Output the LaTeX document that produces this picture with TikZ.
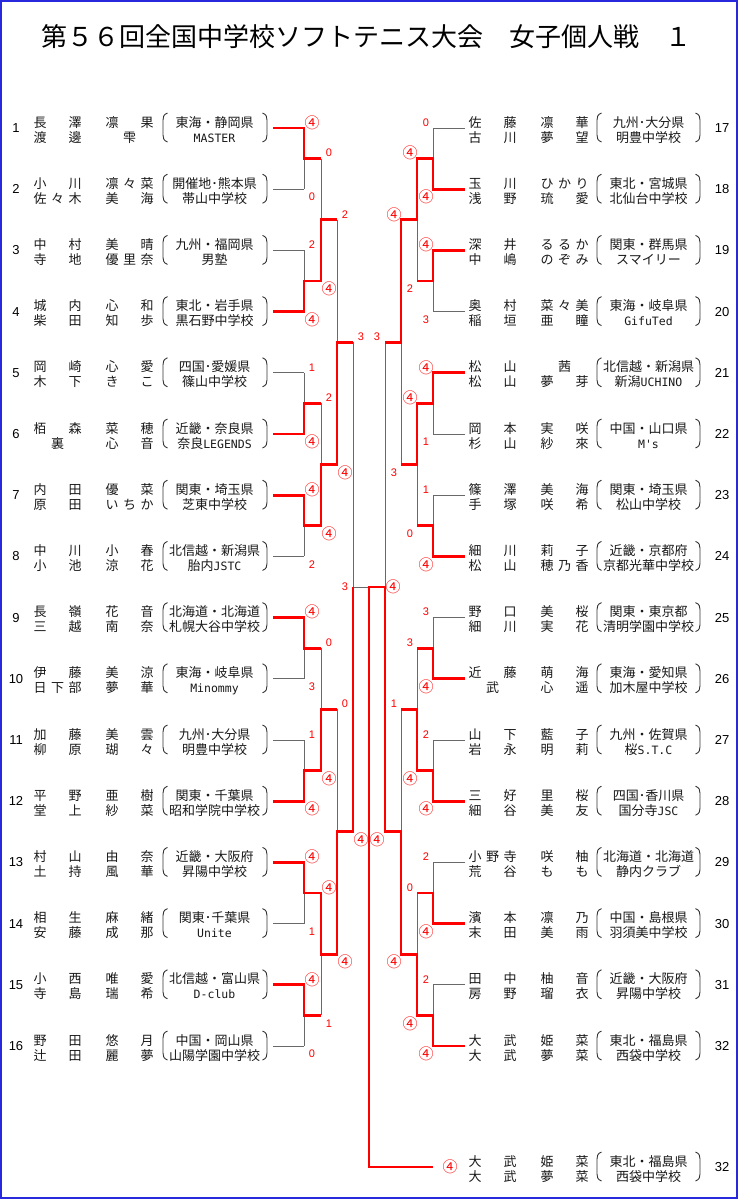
\documentclass[tikz,border=0pt]{standalone}
\usepackage{fontspec}
\setmainfont{Noto Sans CJK JP}
\newfontfamily\monof{DejaVu Sans Mono}
\newfontfamily\arialf{Liberation Sans}
\usetikzlibrary{calc}
\definecolor{frameblue}{RGB}{40,40,220}
\definecolor{linegrey}{RGB}{105,105,105}

\makeatletter
\newcount\dnum \newcount\didx
\newcommand\dbox[1]{\hbox to 35pt{\dnum=0 \@tfor\dch:=#1\do{\advance\dnum\@ne}%
  \ifnum\dnum=1 \hfil\makebox[0pt]{#1}\hfil\else
  \didx=0 \@tfor\dch:=#1\do{\ifnum\didx>0 \hfil\fi\advance\didx\@ne\makebox[0pt]{\dch}}\fi}}
\makeatother
\newcommand\nrow[2]{\hbox{\dbox{#1}\hskip37pt\dbox{#2}}}
\newcommand\mn[1]{{\monof\fontsize{11.5}{12}\selectfont #1}}
\newcommand\four{{\rmfamily\fontsize{15}{15}\selectfont ④}}
\newcounter{scn}

\tikzset{
  nm/.style={inner sep=0pt, text=black!90, font=\fontsize{13}{13}\selectfont},
  num/.style={inner sep=0pt, font=\arialf\fontsize{13}{13}\selectfont},
  paren/.style={draw=black!80, line width=0.9pt},
  gl/.style={draw=linegrey, line width=1pt},
  rl/.style={draw=red, line width=2.8pt, line join=miter},
  score/.style={inner sep=0pt, text=red, font=\arialf\fontsize{11}{11}\selectfont},
}

\newcommand\ent[9]{%
  \node[nm,anchor=base west] (#1a) at (\NX,#3-1) {\nrow{#4}{#5}};
  \node[nm,anchor=base west] (#1b) at (\NX,#3+14) {\nrow{#6}{#7}};
  \node[nm,anchor=base] (#1r) at (\RX,#3-1) {#8};
  \node[nm,anchor=base] (#1s) at (\RX,#3+14) {#9};
  \node[num] (#1n) at (\UX,#3) {#2};
  \draw[paren] (\PX+4.5,#3-15) .. controls (\PX+0.5,#3-13.5) and (\PX,#3-11) .. (\PX,#3-8) -- (\PX,#3+7) .. controls (\PX,#3+10) and (\PX+0.5,#3+12.5) .. (\PX+4.5,#3+14);
  \draw[paren] (\QX-4.5,#3-15) .. controls (\QX-0.5,#3-13.5) and (\QX,#3-11) .. (\QX,#3-8) -- (\QX,#3+7) .. controls (\QX,#3+10) and (\QX-0.5,#3+12.5) .. (\QX-4.5,#3+14);
}
\newcommand\scorelbl[3]{\stepcounter{scn}\node[score] (sc\arabic{scn}) at (#1,#2) {#3};}

\begin{document}
\begin{tikzpicture}[x=1pt,y=-1pt]
\useasboundingbox (0,0) rectangle (740,1200);
\fill[white] (0,0) rectangle (740,1200);
\draw[draw=frameblue, line width=2pt] (1,1) rectangle (736.5,1197.5);

\node[anchor=base west, inner sep=0pt, font=\fontsize{26}{26}\selectfont] (title) at (41,46) {第５６回全国中学校ソフトテニス大会　女子個人戦　１};

% ---- coordinates of the bracket
\foreach \i in {1,...,16}{
  \pgfmathsetmacro\Y{128+61.2*(\i-1)}
  \coordinate (La\i) at (273,\Y);
  \coordinate (Lb\i) at (304,\Y);
  \coordinate (Ra\i) at (465,\Y);
  \coordinate (Rb\i) at (433,\Y);
}
\foreach \k in {1,...,8}{
  \pgfmathsetmacro\M{128+61.2*(2*\k-1.5)}
  \coordinate (L1m\k) at (304,\M); \coordinate (L1o\k) at (321,\M);
  \coordinate (R1m\k) at (433,\M); \coordinate (R1o\k) at (417,\M);
}
\foreach \k in {1,...,4}{
  \pgfmathsetmacro\M{128+61.2*(4*\k-2.5)}
  \coordinate (L2m\k) at (321,\M); \coordinate (L2o\k) at (337,\M);
  \coordinate (R2m\k) at (417,\M); \coordinate (R2o\k) at (401,\M);
}
\foreach \k in {1,2}{
  \pgfmathsetmacro\M{128+61.2*(8*\k-4.5)}
  \coordinate (L3m\k) at (337,\M); \coordinate (L3o\k) at (353,\M);
  \coordinate (R3m\k) at (401,\M); \coordinate (R3o\k) at (385,\M);
}
\coordinate (L4m) at (353,587);
\coordinate (R4m) at (385,587);
\coordinate (F) at (369,587);
\coordinate (Fb) at (369,1167);
\coordinate (W) at (433,1167);

% ---- grey bracket
\foreach \i in {1,...,16}{\draw[gl] (La\i) -- (Lb\i); \draw[gl] (Ra\i) -- (Rb\i);}
\foreach \k in {1,...,8}{
  \pgfmathtruncatemacro\a{2*\k-1}\pgfmathtruncatemacro\b{2*\k}
  \draw[gl] (Lb\a) -- (Lb\b); \draw[gl] (L1m\k) -- (L1o\k);
  \draw[gl] (Rb\a) -- (Rb\b); \draw[gl] (R1m\k) -- (R1o\k);
}
\foreach \k in {1,...,4}{
  \pgfmathtruncatemacro\a{2*\k-1}\pgfmathtruncatemacro\b{2*\k}
  \draw[gl] (L1o\a) -- (L1o\b); \draw[gl] (L2m\k) -- (L2o\k);
  \draw[gl] (R1o\a) -- (R1o\b); \draw[gl] (R2m\k) -- (R2o\k);
}
\foreach \k in {1,2}{
  \pgfmathtruncatemacro\a{2*\k-1}\pgfmathtruncatemacro\b{2*\k}
  \draw[gl] (L2o\a) -- (L2o\b); \draw[gl] (L3m\k) -- (L3o\k);
  \draw[gl] (R2o\a) -- (R2o\b); \draw[gl] (R3m\k) -- (R3o\k);
}
\draw[gl] (L3o1) -- (L3o2); \draw[gl] (L4m) -- (F);
\draw[gl] (R3o1) -- (R3o2); \draw[gl] (R4m) -- (F);

% ---- red winner paths
\draw[rl] (La1) -- (Lb1) -- (L1m1) -- (L1o1);
\draw[rl] (La4) -- (Lb4) -- (L1m2) -- (L1o2) -- (L2m1) -- (L2o1);
\draw[rl] (La6) -- (Lb6) -- (L1m3) -- (L1o3);
\draw[rl] (La7) -- (Lb7) -- (L1m4) -- (L1o4) -- (L2m2) -- (L2o2) -- (L3m1) -- (L3o1);
\draw[rl] (La9) -- (Lb9) -- (L1m5) -- (L1o5);
\draw[rl] (La12) -- (Lb12) -- (L1m6) -- (L1o6) -- (L2m3) -- (L2o3);
\draw[rl] (La13) -- (Lb13) -- (L1m7) -- (L1o7) -- (L2m4) -- (L2o4) -- (L3m2) -- (L3o2) -- (L4m);
\draw[rl] (La15) -- (Lb15) -- (L1m8) -- (L1o8);

\draw[rl] (Ra2) -- (Rb2) -- (R1m1) -- (R1o1) -- (R2m1) -- (R2o1) -- (R3m1) -- (R3o1);
\draw[rl] (Ra3) -- (Rb3) -- (R1m2) -- (R1o2);
\draw[rl] (Ra5) -- (Rb5) -- (R1m3) -- (R1o3) -- (R2m2) -- (R2o2);
\draw[rl] (Ra8) -- (Rb8) -- (R1m4) -- (R1o4);
\draw[rl] (Ra10) -- (Rb10) -- (R1m5) -- (R1o5);
\draw[rl] (Ra12) -- (Rb12) -- (R1m6) -- (R1o6) -- (R2m3) -- (R2o3);
\draw[rl] (Ra14) -- (Rb14) -- (R1m7) -- (R1o7);
\draw[rl] (Ra16) -- (Rb16) -- (R1m8) -- (R1o8) -- (R2m4) -- (R2o4) -- (R3m2) -- (R3o2) -- (R4m) -- (F) -- (Fb) -- (W);

% ---- left entries
\def\NX{40}\def\RX{214.5}\def\PX{163}\def\QX{267}\def\UX{16}
\ent{EL1}{1}{128.0}{長澤}{凛果}{渡邊}{雫}{東海・静岡県}{\mn{MASTER}}
\ent{EL2}{2}{189.2}{小川}{凛々菜}{佐々木}{美海}{開催地･熊本県}{帯山中学校}
\ent{EL3}{3}{250.4}{中村}{美晴}{寺地}{優里奈}{九州・福岡県}{男塾}
\ent{EL4}{4}{311.6}{城内}{心和}{柴田}{知歩}{東北・岩手県}{黒石野中学校}
\ent{EL5}{5}{372.8}{岡崎}{心愛}{木下}{きこ}{四国･愛媛県}{篠山中学校}
\ent{EL6}{6}{434.0}{栢森}{菜穂}{裏}{心音}{近畿・奈良県}{奈良\mn{LEGENDS}}
\ent{EL7}{7}{495.2}{内田}{優菜}{原田}{いちか}{関東・埼玉県}{芝東中学校}
\ent{EL8}{8}{556.4}{中川}{小春}{小池}{涼花}{北信越・新潟県}{胎内\mn{JSTC}}
\ent{EL9}{9}{617.6}{長嶺}{花音}{三越}{南奈}{北海道・北海道}{札幌大谷中学校}
\ent{EL10}{10}{678.8}{伊藤}{美涼}{日下部}{夢華}{東海・岐阜県}{\mn{Minommy}}
\ent{EL11}{11}{740.0}{加藤}{美雲}{柳原}{瑚々}{九州･大分県}{明豊中学校}
\ent{EL12}{12}{801.2}{平野}{亜樹}{堂上}{紗菜}{関東・千葉県}{昭和学院中学校}
\ent{EL13}{13}{862.4}{村山}{由奈}{土持}{風華}{近畿・大阪府}{昇陽中学校}
\ent{EL14}{14}{923.6}{相生}{麻緒}{安藤}{成那}{関東･千葉県}{\mn{Unite}}
\ent{EL15}{15}{984.8}{小西}{唯愛}{寺島}{瑞希}{北信越・富山県}{\mn{D-club}}
\ent{EL16}{16}{1046.0}{野田}{悠月}{辻田}{麗夢}{中国・岡山県}{山陽学園中学校}

% ---- right entries
\def\NX{475}\def\RX{648.5}\def\PX{597}\def\QX{700}\def\UX{722}
\ent{ER1}{17}{128.0}{佐藤}{凛華}{古川}{夢望}{九州･大分県}{明豊中学校}
\ent{ER2}{18}{189.2}{玉川}{ひかり}{浅野}{琉愛}{東北・宮城県}{北仙台中学校}
\ent{ER3}{19}{250.4}{深井}{るるか}{中嶋}{のぞみ}{関東・群馬県}{スマイリー}
\ent{ER4}{20}{311.6}{奥村}{菜々美}{稲垣}{亜瞳}{東海・岐阜県}{\mn{GifuTed}}
\ent{ER5}{21}{372.8}{松山}{茜}{松山}{夢芽}{北信越・新潟県}{新潟\mn{UCHINO}}
\ent{ER6}{22}{434.0}{岡本}{実咲}{杉山}{紗來}{中国・山口県}{\mn{M's}}
\ent{ER7}{23}{495.2}{篠澤}{美海}{手塚}{咲希}{関東・埼玉県}{松山中学校}
\ent{ER8}{24}{556.4}{細川}{莉子}{松山}{穂乃香}{近畿・京都府}{京都光華中学校}
\ent{ER9}{25}{617.6}{野口}{美桜}{細川}{実花}{関東・東京都}{清明学園中学校}
\ent{ER10}{26}{678.8}{近藤}{萌海}{武}{心遥}{東海・愛知県}{加木屋中学校}
\ent{ER11}{27}{740.0}{山下}{藍子}{岩永}{明莉}{九州・佐賀県}{桜\mn{S.T.C}}
\ent{ER12}{28}{801.2}{三好}{里桜}{細谷}{美友}{四国･香川県}{国分寺\mn{JSC}}
\ent{ER13}{29}{862.4}{小野寺}{咲柚}{荒谷}{もも}{北海道・北海道}{静内クラブ}
\ent{ER14}{30}{923.6}{濱本}{凛乃}{末田}{美雨}{中国・島根県}{羽須美中学校}
\ent{ER15}{31}{984.8}{田中}{柚音}{房野}{瑠衣}{近畿・大阪府}{昇陽中学校}
\ent{ER16}{32}{1046.0}{大武}{姫菜}{大武}{夢菜}{東北・福島県}{西袋中学校}
\ent{EB}{32}{1167}{大武}{姫菜}{大武}{夢菜}{東北・福島県}{西袋中学校}

% ---- scores left
\scorelbl{312}{122.5}{\four}\scorelbl{312}{197.2}{0}
\scorelbl{312}{244.9}{2}\scorelbl{312}{319.6}{\four}
\scorelbl{312}{367.3}{1}\scorelbl{312}{442.0}{\four}
\scorelbl{312}{489.7}{\four}\scorelbl{312}{564.4}{2}
\scorelbl{312}{612.1}{\four}\scorelbl{312}{686.8}{3}
\scorelbl{312}{734.5}{1}\scorelbl{312}{809.2}{\four}
\scorelbl{312}{856.9}{\four}\scorelbl{312}{931.6}{1}
\scorelbl{312}{979.3}{\four}\scorelbl{312}{1054.0}{0}
\scorelbl{329}{153.1}{0}\scorelbl{329}{289.0}{\four}
\scorelbl{329}{397.9}{2}\scorelbl{329}{533.8}{\four}
\scorelbl{329}{642.7}{0}\scorelbl{329}{778.6}{\four}
\scorelbl{329}{887.5}{\four}\scorelbl{329}{1023.4}{1}
\scorelbl{345}{214.3}{2}\scorelbl{345}{472.6}{\four}
\scorelbl{345}{703.9}{0}\scorelbl{345}{962.2}{\four}
\scorelbl{361}{336.7}{3}\scorelbl{361}{839.8}{\four}
\scorelbl{345}{587}{3}
% ---- scores right
\scorelbl{426}{122.5}{0}\scorelbl{426}{197.2}{\four}
\scorelbl{426}{244.9}{\four}\scorelbl{426}{319.6}{3}
\scorelbl{426}{367.3}{\four}\scorelbl{426}{442.0}{1}
\scorelbl{426}{489.7}{1}\scorelbl{426}{564.4}{\four}
\scorelbl{426}{612.1}{3}\scorelbl{426}{686.8}{\four}
\scorelbl{426}{734.5}{2}\scorelbl{426}{809.2}{\four}
\scorelbl{426}{856.9}{2}\scorelbl{426}{931.6}{\four}
\scorelbl{426}{979.3}{2}\scorelbl{426}{1054.0}{\four}
\scorelbl{410}{153.1}{\four}\scorelbl{410}{289.0}{2}
\scorelbl{410}{397.9}{\four}\scorelbl{410}{533.8}{0}
\scorelbl{410}{642.7}{3}\scorelbl{410}{778.6}{\four}
\scorelbl{410}{887.5}{0}\scorelbl{410}{1023.4}{\four}
\scorelbl{394}{214.3}{\four}\scorelbl{394}{472.6}{3}
\scorelbl{394}{703.9}{1}\scorelbl{394}{962.2}{\four}
\scorelbl{377}{336.7}{3}\scorelbl{377}{839.8}{\four}
\scorelbl{393}{587}{\four}
\scorelbl{450}{1167}{\four}
\end{tikzpicture}
\end{document}
